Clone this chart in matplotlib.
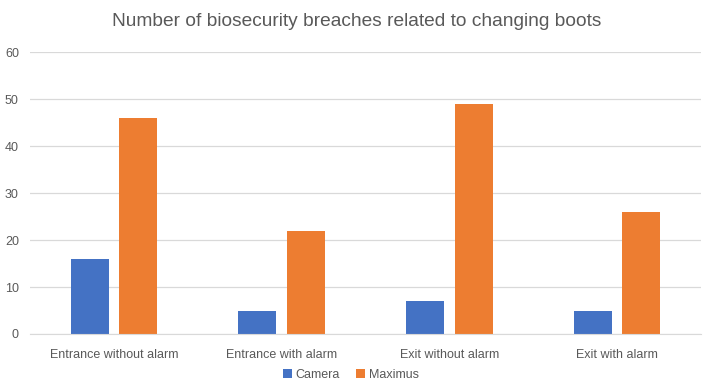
import matplotlib
matplotlib.use("Agg")
import matplotlib.pyplot as plt
import numpy as np

categories = ["Entrance without alarm", "Entrance with alarm", "Exit without alarm", "Exit with alarm"]
camera = [16, 5, 7, 5]
maximus = [46, 22, 49, 26]

plt.rcParams["font.family"] = ["Liberation Sans", "DejaVu Sans"]
txt = "#595959"

fig = plt.figure(figsize=(7.08, 3.89), dpi=100)
ax = fig.add_axes([30/708, 1-334/389, 671/708, (334-52)/389])

x = np.arange(len(categories))
w = 0.227
ax.bar(x - 0.145, camera, w, color="#4472C4", label="Camera")
ax.bar(x + 0.145, maximus, w, color="#ED7D31", label="Maximus")

ax.set_xlim(-0.5, 3.5)
ax.set_ylim(0, 60)
ax.set_yticks(range(0, 61, 10))
ax.set_xticks(x)
ax.set_xticklabels(categories)
ax.yaxis.grid(True, color="#D9D9D9", lw=0.9)
ax.set_axisbelow(True)
for s in ["top", "right", "left"]:
    ax.spines[s].set_visible(False)
ax.spines["bottom"].set_color("#D9D9D9")
ax.tick_params(axis="both", length=0, colors=txt, labelsize=9)
ax.tick_params(axis="y", pad=8)
ax.tick_params(axis="x", pad=11)

fig.text(357/708, 1-22/389, "Number of biosecurity breaches related to changing boots",
         ha="center", va="center", fontsize=13.8, color=txt)
fig.legend(loc="center", bbox_to_anchor=(351/708, 1-375/389), ncol=2, frameon=False,
           fontsize=9, labelcolor=txt, handlelength=0.7, handleheight=0.7,
           handletextpad=0.3, columnspacing=1.3)

fig.savefig("out.png", dpi=100)
